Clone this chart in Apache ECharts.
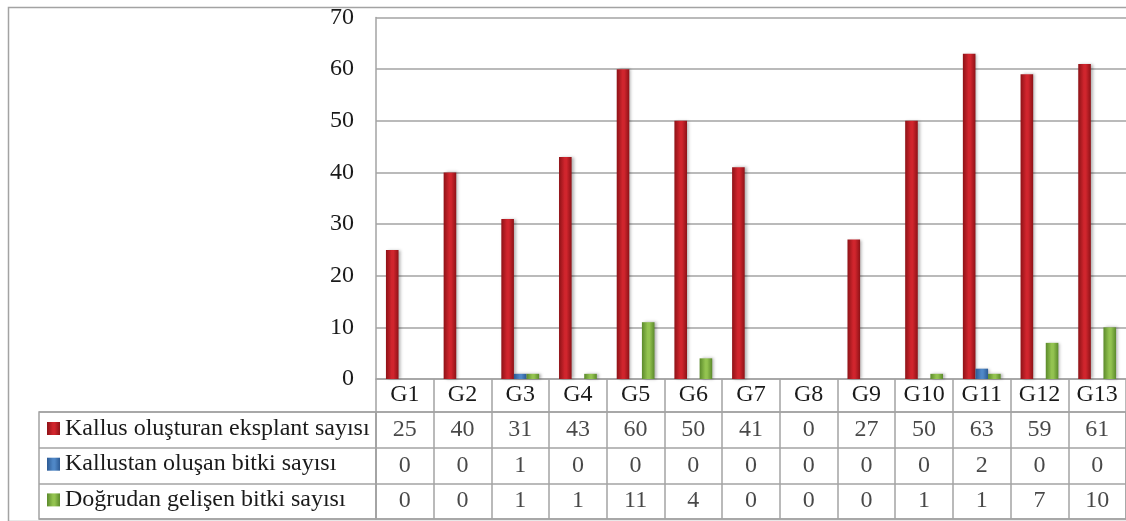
<!DOCTYPE html>
<html>
<head>
<meta charset="utf-8">
<script src="https://cdn.jsdelivr.net/npm/echarts@6/dist/echarts.min.js"></script>
<style>
  html, body { margin: 0; padding: 0; background: #fff; }
  #main { width: 1126px; height: 521px; }
</style>
</head>
<body>
<div id="main"></div>
<script>
const categories = ['G1', 'G2', 'G3', 'G4', 'G5', 'G6', 'G7', 'G8', 'G9', 'G10', 'G11', 'G12', 'G13'];
const seriesNames = [
  'Kallus oluşturan eksplant sayısı',
  'Kallustan oluşan bitki sayısı',
  'Doğrudan gelişen bitki sayısı'
];
const kallusEksplant = [25, 40, 31, 43, 60, 50, 41, 0, 27, 50, 63, 59, 61];
const kallustanBitki = [0, 0, 1, 0, 0, 0, 0, 0, 0, 0, 2, 0, 0];
const dogrudanBitki = [0, 0, 1, 1, 11, 4, 0, 0, 0, 1, 1, 7, 10];
const yTicks = [0, 10, 20, 30, 40, 50, 60, 70];

const FONT = 'Liberation Serif';
const FS = 24;
const LINE = '#a3a3a3';
const TXT = '#1a1a1a';

function barGrad(dark, light) {
  return new echarts.graphic.LinearGradient(0, 0, 1, 0, [
    { offset: 0, color: dark },
    { offset: 0.45, color: light },
    { offset: 0.6, color: light },
    { offset: 1, color: dark }
  ]);
}
const colors = [
  barGrad('#8e1217', '#d0252d'),
  barGrad('#2c5a94', '#4f87c6'),
  barGrad('#5b8a2b', '#93c350')
];

const allValues = [kallusEksplant, kallustanBitki, dogrudanBitki];

const chart = echarts.init(document.getElementById('main'));

const barSeries = allValues.map((vals, i) => ({
  name: seriesNames[i],
  type: 'bar',
  xAxisIndex: 0,
  yAxisIndex: 0,
  barWidth: 12.6,
  barGap: '0%',
  data: vals,
  itemStyle: {
    color: colors[i],
    shadowColor: 'rgba(0,0,0,0.3)',
    shadowBlur: 3,
    shadowOffsetX: 2,
    shadowOffsetY: 0
  }
}));

// table values drawn as labels on the table grid
const tableData = [];
allValues.forEach((vals, r) => {
  vals.forEach((v, c) => tableData.push([c, r, v]));
});

const option = {
  backgroundColor: '#fff',
  animation: false,
  textStyle: { fontFamily: FONT },
  graphic: [{
    type: 'rect',
    left: 6, top: 5,
    shape: { width: 1200, height: 514 },
    style: { fill: 'none', stroke: LINE, lineWidth: 1.5 },
    silent: true
  }],
  legend: {
    data: seriesNames,
    orient: 'vertical',
    left: 47,
    top: 416.5,
    height: 110,
    padding: 0,
    itemWidth: 13,
    itemHeight: 13,
    itemGap: 11.7,
    icon: 'rect',
    textStyle: { fontFamily: FONT, fontSize: FS, color: TXT, lineHeight: 24 }
  },
  grid: [
    { left: 376, top: 17.5, width: 758, height: 361.5 },
    { left: 376, top: 412, width: 758, height: 107, show: true, borderColor: LINE, borderWidth: 1.5 },
    { left: 39, top: 412, width: 337, height: 107, show: true, borderColor: LINE, borderWidth: 1.5 }
  ],
  xAxis: [
    {
      gridIndex: 0,
      type: 'category',
      data: categories,
      axisLine: { lineStyle: { color: LINE, width: 1.5 } },
      axisTick: { show: true, length: 33, lineStyle: { color: LINE, width: 1.5 } },
      axisLabel: { margin: 4, fontFamily: FONT, fontSize: FS, color: TXT, interval: 0 }
    },
    {
      gridIndex: 1,
      type: 'category',
      data: categories,
      axisLine: { show: false },
      axisTick: { show: false },
      axisLabel: { show: false },
      splitLine: { show: true, interval: 0, lineStyle: { color: LINE, width: 1.5 } }
    },
    {
      gridIndex: 2,
      type: 'value',
      min: 0, max: 1,
      show: false
    }
  ],
  yAxis: [
    {
      gridIndex: 0,
      type: 'value',
      min: 0,
      max: yTicks[yTicks.length - 1],
      interval: 10,
      axisLine: { show: true, lineStyle: { color: LINE, width: 1.5 } },
      axisTick: { show: false },
      axisLabel: { margin: 22, fontFamily: FONT, fontSize: FS, color: TXT },
      splitLine: { lineStyle: { color: LINE, width: 1.5 } }
    },
    {
      gridIndex: 1,
      type: 'category',
      data: [0, 1, 2],
      inverse: true,
      axisLine: { show: false },
      axisTick: { show: false },
      axisLabel: { show: false },
      splitLine: { show: true, interval: 0, lineStyle: { color: LINE, width: 1.5 } }
    },
    {
      gridIndex: 2,
      type: 'category',
      data: [0, 1, 2],
      inverse: true,
      axisLine: { show: false },
      axisTick: { show: false },
      axisLabel: { show: false },
      splitLine: { show: true, interval: 0, lineStyle: { color: LINE, width: 1.5 } }
    }
  ],
  series: barSeries.concat([{
    type: 'scatter',
    xAxisIndex: 1,
    yAxisIndex: 1,
    symbolSize: 0.01,
    itemStyle: { color: 'transparent' },
    silent: true,
    data: tableData,
    label: {
      show: true,
      position: 'inside',
      formatter: p => String(p.value[2]),
      fontFamily: FONT,
      fontSize: FS,
      color: TXT
    }
  }])
};

chart.setOption(option);
window.addEventListener('resize', () => chart.resize());
</script>
</body>
</html>
